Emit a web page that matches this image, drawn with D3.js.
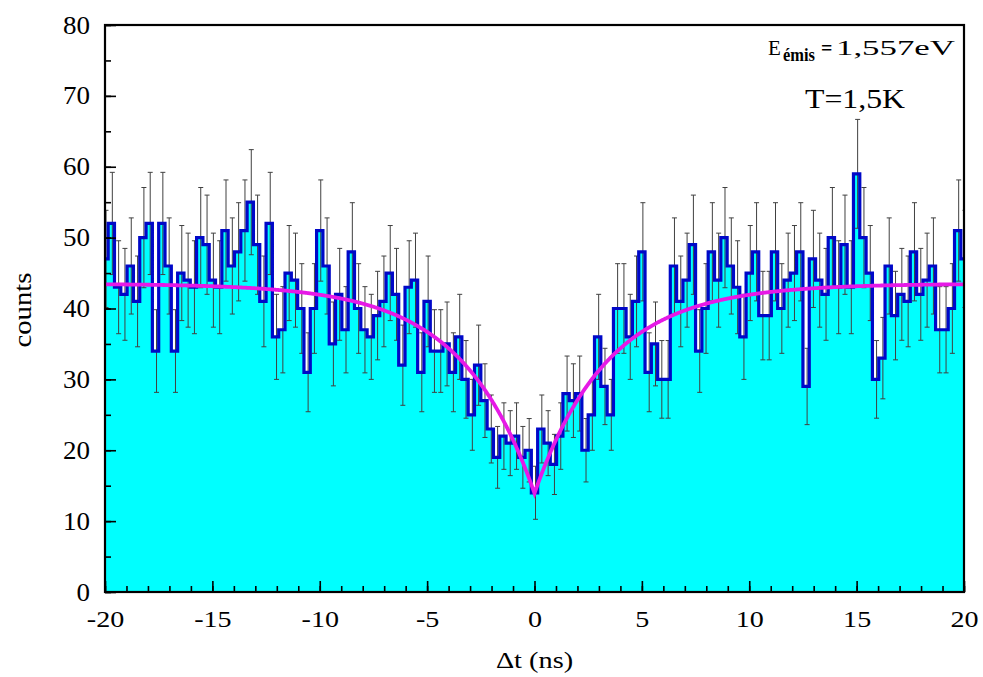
<!DOCTYPE html>
<html><head><meta charset="utf-8">
<script src="https://cdn.jsdelivr.net/npm/d3@7"></script>
<style>body{margin:0;background:#fff} svg{display:block} text{font-family:"Liberation Serif","Times New Roman",serif;fill:#000}</style>
</head><body><svg id="c" width="983" height="677"></svg>
<script>
// histogram counts, bins centred at binStart + k*binWidth
const counts = [
 47,52,43,42,46,41,50,52,34,52,46,34,45,44,43,50,49,44,43,51,
 46,48,51,55,49,41,52,36,37,45,44,40,31,40,51,46,35,42,37,48,
 40,37,36,39,41,45,42,32,43,44,31,41,34,34,35,31,36,30,25,32,
 27,23,19,22,21,22,19,20,14,23,21,18,22,28,27,28,20,25,36,29,
 25,40,40,36,41,48,31,35,30,30,46,41,44,49,34,40,48,44,50,46,
 43,36,45,48,39,39,48,40,44,45,48,29,47,44,42,50,43,49,43,59,
 50,45,30,33,46,39,42,41,48,42,44,46,37,37,40,51,47
];
const binStart = -20, binWidth = 40/136;
const xMajor = [-20,-15,-10,-5,0,5,10,15,20];
const xMinor = d3.range(-20,21,1);
const yMajor = [0,10,20,30,40,50,60,70,80];
const yMinor = d3.range(0,81,5);
// fit: A*(1 - B*exp(-|t|/tau))
const fitA = 43.5, fitB = 0.68, fitTau = 3.4;

const W=983,H=677, m={l:105,r:19,t:25,b:85};
const svg = d3.select("#c");
const x = d3.scaleLinear([-20,20],[m.l, W-m.r]);
const y = d3.scaleLinear([0,80],[H-m.b, m.t]);

function stretch(sel, k){
  sel.each(function(){
    const L = this.getComputedTextLength();
    d3.select(this).attr("textLength", L*k).attr("lengthAdjust","spacingAndGlyphs");
  });
}

const bins = counts.map((v,k)=>({t: binStart + k*binWidth, v, e: Math.sqrt(v)}));
const steps = bins.flatMap(d=>[[d.t-binWidth/2,d.v],[d.t+binWidth/2,d.v]]);

svg.append("defs").append("clipPath").attr("id","clip")
  .append("rect").attr("x",m.l).attr("y",m.t).attr("width",W-m.l-m.r).attr("height",H-m.t-m.b);
const g = svg.append("g").attr("clip-path","url(#clip)");

g.append("path").datum(steps)
  .attr("d", d3.area().x(d=>x(d[0])).y0(y(0)).y1(d=>y(d[1])))
  .attr("fill","#00ffff");

const eb = g.append("g").attr("stroke","#404040").attr("stroke-width",1);
bins.forEach(d=>{
  const cx = x(d.t)+1;
  eb.append("line").attr("x1",cx).attr("x2",cx).attr("y1",y(d.v-d.e)).attr("y2",y(d.v+d.e));
  eb.append("line").attr("x1",cx-2.5).attr("x2",cx+2.5).attr("y1",y(d.v-d.e)).attr("y2",y(d.v-d.e));
  eb.append("line").attr("x1",cx-2.5).attr("x2",cx+2.5).attr("y1",y(d.v+d.e)).attr("y2",y(d.v+d.e));
});

g.append("path").datum(steps)
  .attr("d", d3.line().x(d=>x(d[0])).y(d=>y(d[1])))
  .attr("fill","none").attr("stroke","#0008c8").attr("stroke-width",3.2).attr("stroke-linejoin","miter");

const fitPts = d3.range(-20, 20.001, 0.02).map(t=>[t, fitA*(1 - fitB*Math.exp(-Math.abs(t)/fitTau))]);
g.append("path").datum(fitPts)
  .attr("d", d3.line().x(d=>x(d[0])).y(d=>y(d[1])))
  .attr("fill","none").attr("stroke","#e619e6").attr("stroke-width",3.8);

// axes
const ax = svg.append("g").attr("transform",`translate(0,${H-m.b})`);
ax.call(d3.axisBottom(x).tickValues(xMinor).tickSize(-6).tickFormat(""));
const axM = ax.append("g").call(d3.axisBottom(x).tickValues(xMajor).tickSize(-11).tickPadding(18).tickFormat(d3.format("d")));
const ay = svg.append("g").attr("transform",`translate(${m.l},0)`);
ay.call(d3.axisLeft(y).tickValues(yMinor).tickSize(-6).tickFormat(""));
const ayM = ay.append("g").call(d3.axisLeft(y).tickValues(yMajor).tickSize(-11).tickPadding(15).tickFormat(d3.format("d")));
svg.selectAll(".domain").remove();
svg.selectAll(".tick line").attr("stroke","#000").attr("stroke-width",1.6);
svg.selectAll(".tick text").attr("font-family",null).attr("fill","#000");
svg.selectAll(".tick text").text(function(){return this.textContent.replace("−","-");});
axM.selectAll(".tick text").attr("font-size",24);
ayM.selectAll(".tick text").attr("font-size",25);
stretch(axM.selectAll(".tick text"), 1.17);
stretch(ayM.selectAll(".tick text"), 1.08);

svg.append("rect").attr("x",m.l).attr("y",m.t).attr("width",W-m.l-m.r).attr("height",H-m.t-m.b)
  .attr("fill","none").attr("stroke","#000").attr("stroke-width",2.2);

const yt = svg.append("text").attr("transform","translate(31,310) rotate(-90)").attr("text-anchor","middle")
  .attr("font-size",25).text("counts");
stretch(yt, 1.15);
const xt = svg.append("text").attr("x",(m.l+W-m.r)/2).attr("y",668).attr("text-anchor","middle")
  .attr("font-size",24).text("Δt (ns)");
stretch(xt, 1.18);

// annotations
const ann = svg.append("g");
ann.append("text").attr("x",768).attr("y",55).attr("font-size",21).text("E");
ann.append("text").attr("x",783).attr("y",61).attr("font-size",19).attr("font-weight","bold")
  .attr("textLength",32).attr("lengthAdjust","spacingAndGlyphs").text("émis");
ann.append("text").attr("x",821).attr("y",55).attr("font-size",20).attr("font-weight","bold").text("=");
ann.append("text").attr("x",836).attr("y",55).attr("font-size",21)
  .attr("textLength",119).attr("lengthAdjust","spacingAndGlyphs").text("1,557eV");
ann.append("text").attr("x",805).attr("y",108).attr("font-size",28)
  .attr("textLength",100).attr("lengthAdjust","spacingAndGlyphs").text("T=1,5K");
</script>
</body></html>
